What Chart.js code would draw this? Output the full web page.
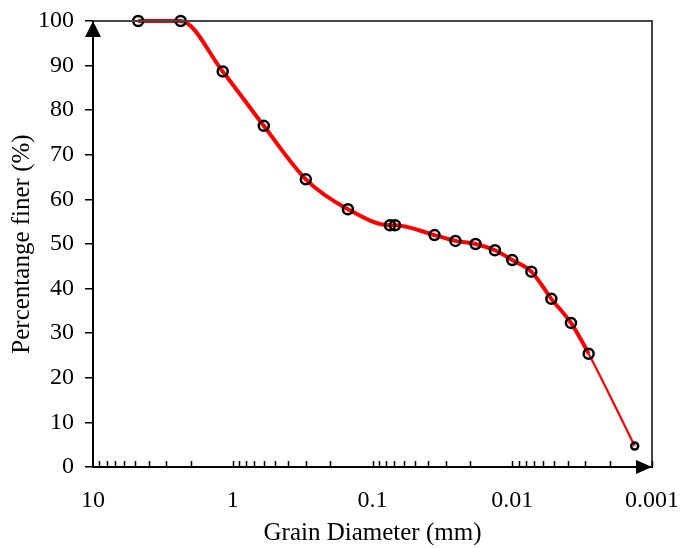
<!DOCTYPE html>
<html>
<head>
<meta charset="utf-8">
<script src="https://cdn.jsdelivr.net/npm/chart.js@4/dist/chart.umd.min.js"></script>
<style>
  html, body { margin: 0; padding: 0; background: #fff; }
  #wrap { width: 682px; height: 548px; }
</style>
</head>
<body>
<div id="wrap"><canvas id="gradChart"></canvas></div>
<script>
// grain size distribution
const diameters = [4.75, 2.36, 1.18, 0.6, 0.3, 0.15, 0.075, 0.069, 0.036, 0.0255, 0.0183, 0.0133, 0.0100, 0.0073, 0.00525, 0.0038, 0.00284, 0.00133];
const percentFiner = [100, 100, 88.7, 76.5, 64.5, 57.8, 54.2, 54.2, 52.0, 50.7, 50.0, 48.6, 46.4, 43.8, 37.7, 32.3, 25.4, 4.7];
const xTickValues = [10, 1, 0.1, 0.01, 0.001];
const yTickValues = [0, 10, 20, 30, 40, 50, 60, 70, 80, 90, 100];

const serif = 'Liberation Serif';

// frame, arrow heads and the small log ticks on the x axis
const decorPlugin = {
    id: 'decor',
    afterDraw(chart) {
        const { ctx, chartArea: a, scales: { x } } = chart;
        ctx.save();
        // top + right frame
        ctx.strokeStyle = '#444';
        ctx.lineWidth = 2;
        ctx.beginPath();
        ctx.moveTo(a.left, a.top);
        ctx.lineTo(a.right, a.top);
        ctx.lineTo(a.right, a.bottom);
        ctx.stroke();

        // minor ticks, pointing up from the axis
        ctx.strokeStyle = '#000';
        ctx.lineWidth = 1.5;
        ctx.beginPath();
        for (let e = -3; e < 1; e++) {
            for (let m = 1; m < 10; m++) {
                const v = m * Math.pow(10, e);
                const px = Math.round(x.getPixelForValue(v)) + 0.5;
                ctx.moveTo(px, a.bottom);
                ctx.lineTo(px, a.bottom - 6);
            }
        }
        ctx.stroke();

        // arrow heads
        ctx.fillStyle = '#000';
        ctx.beginPath();
        ctx.moveTo(a.left, a.top);
        ctx.lineTo(a.left - 8, a.top + 16);
        ctx.lineTo(a.left + 8, a.top + 16);
        ctx.closePath();
        ctx.fill();
        ctx.beginPath();
        ctx.moveTo(a.right, a.bottom);
        ctx.lineTo(a.right - 16, a.bottom - 7);
        ctx.lineTo(a.right - 16, a.bottom + 7);
        ctx.closePath();
        ctx.fill();
        ctx.restore();
    }
};

const lastIdx = diameters.length - 1;

const gradCtx = document.getElementById('gradChart').getContext('2d');
const gradChart = new Chart(gradCtx, {
    type: 'line',
    data: {
        datasets: [
            {
                label: 'Percentage finer',
                data: diameters.map((d, i) => ({ x: d, y: percentFiner[i] })),
                borderColor: '#ff0000',
                borderWidth: 4,
                cubicInterpolationMode: 'monotone',
                segment: {
                    borderWidth: c => (c.p1DataIndex === lastIdx ? 2.2 : 4)
                },
                pointRadius: c => (c.dataIndex === lastIdx ? 3.5 : 5),
                pointBorderWidth: 2.5,
                pointBorderColor: '#000',
                pointBackgroundColor: 'rgba(0,0,0,0)',
                clip: false
            }
        ]
    },
    options: {
        responsive: true,
        maintainAspectRatio: false,
        animation: false,
        layout: { padding: { top: 21, right: 30, left: 0, bottom: 0 } },
        plugins: {
            legend: { display: false },
            tooltip: { enabled: false }
        },
        scales: {
            x: {
                type: 'logarithmic',
                reverse: true,
                min: 0.001,
                max: 10,
                afterBuildTicks: s => { s.ticks = xTickValues.map(v => ({ value: v })); },
                afterFit: s => { s.height = 81; s.paddingLeft = 0; s.paddingRight = 0; },
                ticks: {
                    autoSkip: false,
                    maxRotation: 0,
                    padding: 19,
                    color: '#000',
                    font: { family: serif, size: 24 },
                    callback: v => String(v)
                },
                grid: { display: false, drawTicks: false },
                border: { display: true, color: '#000', width: 2 },
                title: {
                    display: true,
                    text: 'Grain Diameter (mm)',
                    color: '#000',
                    font: { family: serif, size: 25, lineHeight: 1.2 },
                    padding: { top: 0, bottom: 0 }
                }
            },
            y: {
                min: 0,
                max: 100,
                afterBuildTicks: s => { s.ticks = yTickValues.map(v => ({ value: v })); },
                afterFit: s => { s.width = 93; s.paddingTop = 0; s.paddingBottom = 0; },
                ticks: {
                    padding: 11,
                    color: '#000',
                    font: { family: serif, size: 24 }
                },
                grid: {
                    drawOnChartArea: false,
                    drawTicks: true,
                    tickLength: 8,
                    color: '#000',
                    lineWidth: 1.5
                },
                border: { display: true, color: '#000', width: 2 },
                title: {
                    display: true,
                    text: 'Percentange finer (%)',
                    color: '#000',
                    font: { family: serif, size: 25, lineHeight: 1.2 },
                    padding: { top: 7, bottom: 0 }
                }
            }
        }
    },
    plugins: [decorPlugin]
});
</script>
</body>
</html>
